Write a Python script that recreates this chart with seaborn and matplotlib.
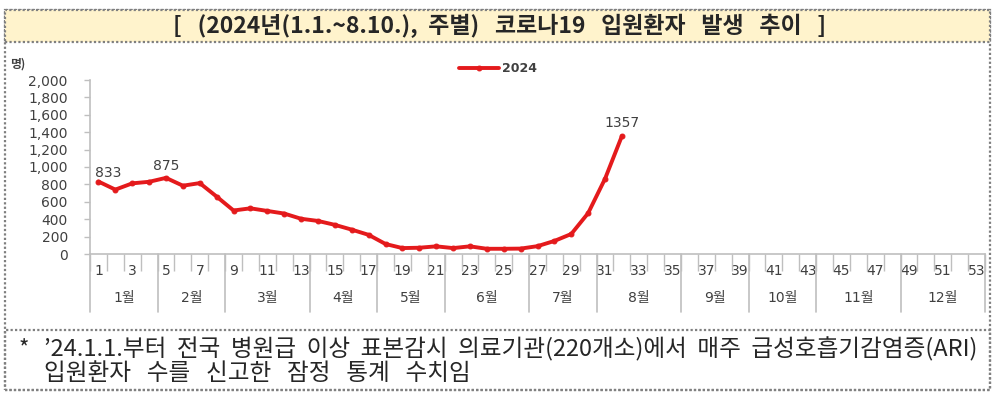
import numpy as np
import pandas as pd
import matplotlib
matplotlib.use("Agg")
import matplotlib.pyplot as plt
import matplotlib.transforms as mtransforms
from matplotlib.patches import Rectangle
import seaborn as sns

# --------------------------------------------------------------------
# Data
# --------------------------------------------------------------------

weeks = list(range(1, 33))
patients = [833, 740, 812, 830, 875, 785, 815, 660, 500, 525, 495, 465,
            405, 380, 335, 280, 220, 115, 68, 72, 88, 68, 88, 60,
            60, 62, 90, 150, 230, 470, 865, 1357]
labelled_weeks = [1, 5, 32]

month_labels = ["1월", "2월", "3월", "4월", "5월", "6월",
                "7월", "8월", "9월", "10월", "11월", "12월"]
weeks_per_month = [4, 4, 5, 4, 4, 5, 4, 5, 4, 4, 5, 5]

y_ticks = [0, 200, 400, 600, 800, 1000, 1200, 1400, 1600, 1800, 2000]

title = "[   (2024년(1.1.~8.10.),  주별)   코로나19   입원환자   발생   추이   ]"
note_1 = "’24.1.1.부터  전국  병원급  이상  표본감시  의료기관(220개소)에서  매주  급성호흡기감염증(ARI)"
note_2 = "입원환자   수를   신고한   잠정   통계   수치임"

df = pd.DataFrame({"week": weeks, "patients": patients})

# --------------------------------------------------------------------
# Style
# --------------------------------------------------------------------

sns.set_style("white")
plt.rcParams["font.family"] = ["DejaVu Sans", "Noto Sans CJK KR"]

RED = "#E41A1C"
TEXT = "#404040"
AXIS = "#BFBFBF"
BORDER = "#7F7F7F"
DARK = "#262626"

W, H = 1000, 398
fig = plt.figure(figsize=(W / 100, H / 100), dpi=100)


def fx(px):
    return px / W


def fy(py):
    return 1 - py / H


# --------------------------------------------------------------------
# Frames: outer box, title box, footnote box
# --------------------------------------------------------------------

frame_kw = dict(transform=fig.transFigure, fill=False, edgecolor=BORDER,
                linestyle=(0, (1, 1)), linewidth=1.6)
fig.patches.append(Rectangle((fx(5), fy(390)), fx(985), 380 / H, **frame_kw))
fig.patches.append(Rectangle((fx(5), fy(42)), fx(985), 32 / H,
                             transform=fig.transFigure, facecolor="#FFF3CC",
                             edgecolor=BORDER, linestyle=(0, (1, 1)), linewidth=1.6))
fig.patches.append(Rectangle((fx(5), fy(390)), fx(985), 60 / H, **frame_kw))

fig.text(0.5, fy(26), title, ha="center", va="center", fontsize=16.5,
         fontweight="bold", color=DARK, family=["Noto Sans CJK KR"])

fig.text(fx(19), fy(349), "*", ha="left", va="center", fontsize=16,
         color=DARK, family=["Noto Sans CJK KR"])
fig.text(fx(44), fy(349), note_1, ha="left", va="center", fontsize=17,
         color=DARK, family=["Noto Sans CJK KR"])
fig.text(fx(44), fy(374), note_2, ha="left", va="center", fontsize=17,
         color=DARK, family=["Noto Sans CJK KR"])

fig.text(fx(10), fy(64), "명)", ha="left", va="center", fontsize=8.5,
         color=TEXT, family=["Noto Sans CJK KR"], fontweight="bold")

# --------------------------------------------------------------------
# Line chart
# --------------------------------------------------------------------

ax = fig.add_axes([fx(90), fy(254), fx(985 - 90), (254 - 80) / H])
sns.lineplot(data=df, x="week", y="patients", ax=ax, color=RED,
             linewidth=2.8, marker="o", markersize=3.5,
             markeredgecolor=RED, label="2024")

label_offsets = {1: (7, 6.5), 5: (0, 8.5), 32: (0, 9.5)}
for w in labelled_weeks:
    v = patients[weeks.index(w)]
    ax.annotate(f"{v}", (w, v), xytext=label_offsets[w],
                textcoords="offset points", ha="center", va="center",
                fontsize=10, color=TEXT)

ax.set_xlim(0.5, 53.5)
ax.set_ylim(0, 2000)
ax.set_xlabel("")
ax.set_ylabel("")

ax.set_yticks(y_ticks)
ax.set_yticklabels([f"{t:,}" for t in y_ticks], fontsize=10, color=TEXT)
ax.tick_params(axis="y", length=4, color=AXIS, width=1, pad=12, left=True)

ax.set_xticks(list(range(1, 54, 2)))
ax.set_xticklabels([str(t) for t in range(1, 54, 2)], fontsize=10, color=TEXT)
ax.set_xticks(np.arange(0.5, 54, 1.0), minor=True)
ax.tick_params(axis="x", which="major", length=0, pad=7)
ax.tick_params(axis="x", which="minor", length=12, color=AXIS, width=1,
               bottom=True, direction="out")

for side in ["top", "right"]:
    ax.spines[side].set_visible(False)
for side in ["left", "bottom"]:
    ax.spines[side].set_color(AXIS)
    ax.spines[side].set_linewidth(1.2)

# month groups under the week labels
trans = mtransforms.blended_transform_factory(ax.transData, ax.transAxes)
bounds = np.concatenate([[0], np.cumsum(weeks_per_month)]) + 0.5
for b in bounds:
    ax.plot([b, b], [0, -0.335], transform=trans, color=AXIS, lw=1.2,
            clip_on=False)
for lab, lo, hi in zip(month_labels, bounds[:-1], bounds[1:]):
    ax.text((lo + hi) / 2, -0.255, lab, transform=trans, ha="center",
            va="center", fontsize=10, color=TEXT,
            family=["DejaVu Sans", "Noto Sans CJK KR"])

leg = ax.legend(loc="center", bbox_to_anchor=(fx(498), fy(69)),
                bbox_transform=fig.transFigure, frameon=False,
                fontsize=9, handlelength=3.2, handletextpad=0.2)
for t in leg.get_texts():
    t.set_color(TEXT)
    t.set_fontweight("bold")

plt.savefig("out.png", dpi=100)
